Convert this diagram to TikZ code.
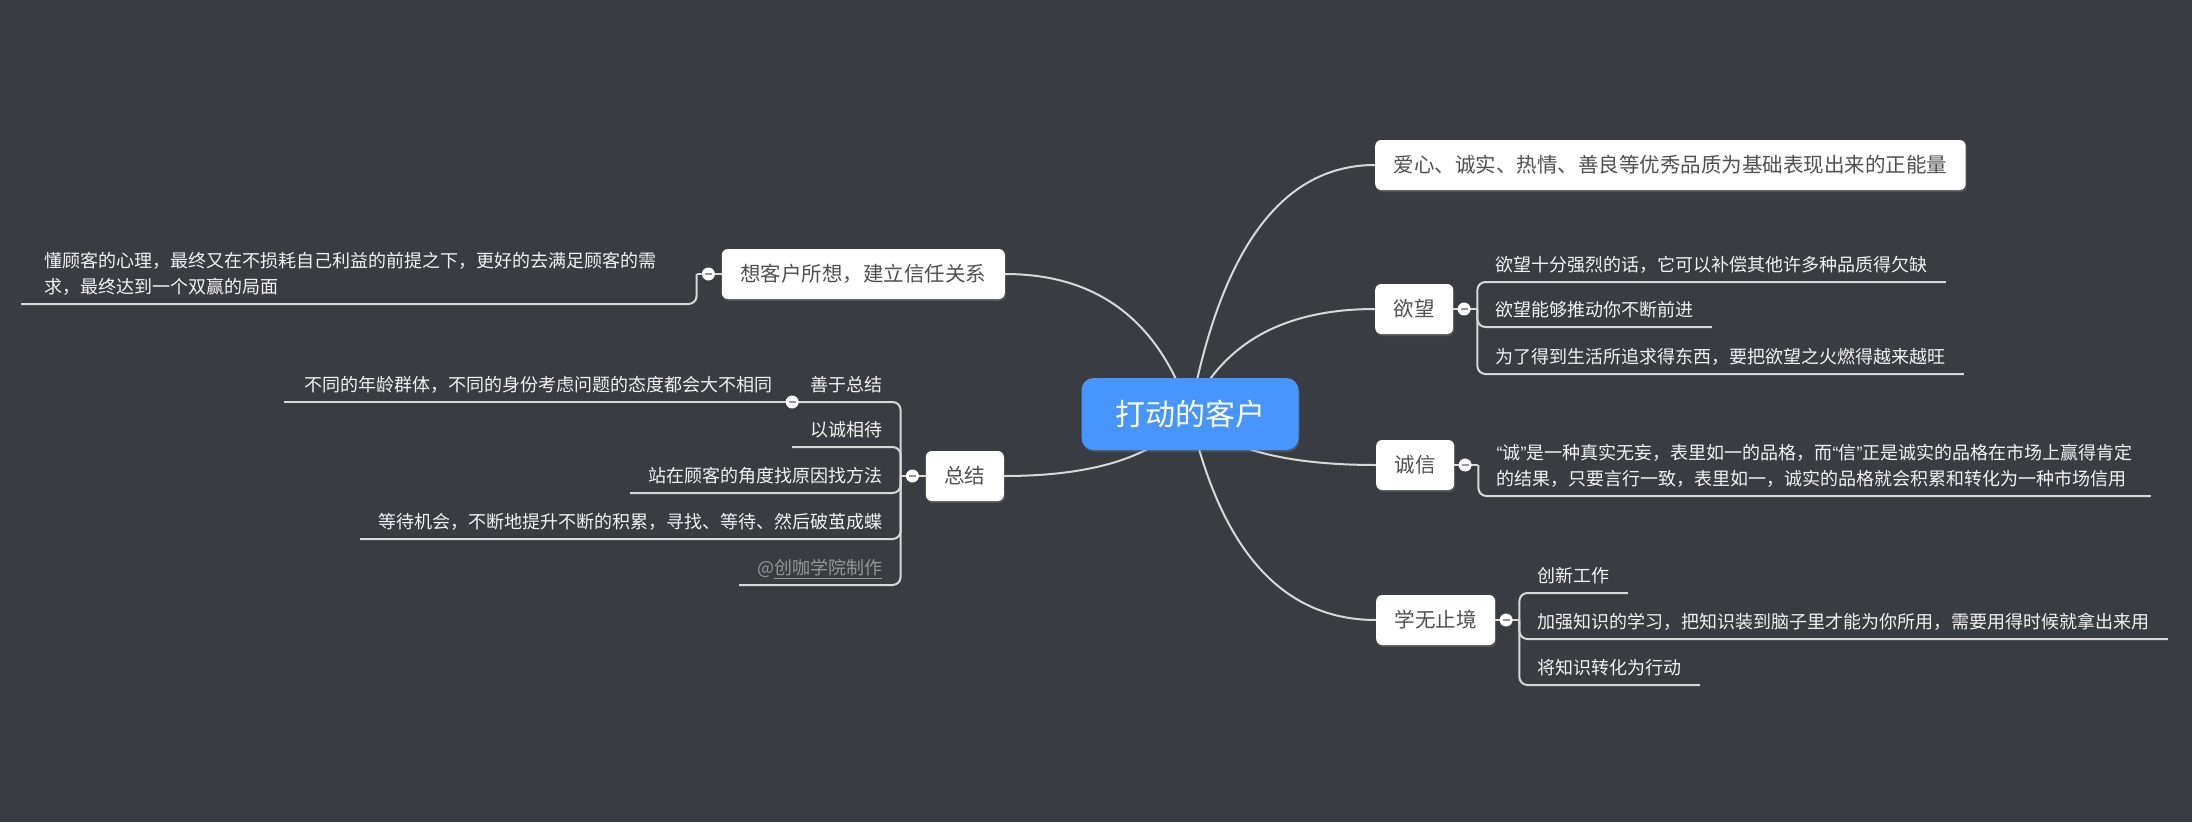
\documentclass[tikz,border=0pt]{standalone}
\usepackage{fontspec}
\setmainfont{Noto Sans CJK SC}
\newfontfamily\quotefont{Liberation Sans}
\newcommand{\quoted}[1]{{\quotefont“}#1{\quotefont”}}
\definecolor{boardgray}{RGB}{57, 60, 65}
\definecolor{rootblue}{RGB}{71, 149, 255}
\definecolor{linkgray}{RGB}{216, 216, 216}
\definecolor{topictext}{RGB}{80, 80, 80}
\definecolor{leaftext}{RGB}{242, 242, 242}
\definecolor{signgray}{RGB}{150, 150, 150}
\usepackage{tikz}
\usetikzlibrary{positioning, calc, shadows}

\tikzset{
  root/.style={fill=rootblue, text=white, rounded corners=12pt,
    minimum width=217pt, minimum height=72pt, font=\fontsize{30}{36}\selectfont,
    drop shadow={opacity=0.35, shadow xshift=1pt, shadow yshift=-2pt}},
  topic/.style={fill=white, text=topictext, rounded corners=6pt,
    minimum height=50pt, inner xsep=18.5pt, font=\fontsize{20.5}{26}\selectfont,
    drop shadow={opacity=0.35, shadow xshift=1pt, shadow yshift=-2pt}},
  leaf/.style={text=leaftext, inner xsep=18pt, inner ysep=6pt, text depth=4pt,
    align=left, font=\fontsize{18}{26}\selectfont},
  fold/.style={circle, fill=white, minimum size=13pt, inner sep=0pt,
    path picture={\draw[signgray, line width=1.6pt]
      ([xshift=3pt]path picture bounding box.west) -- ([xshift=-3pt]path picture bounding box.east);}},
  link/.style={draw=linkgray, line width=2pt},
}

\begin{document}
\begin{tikzpicture}[x=1pt, y=-1pt]
  \fill[boardgray] (0,0) rectangle (2192,822);
  \useasboundingbox (0,0) rectangle (2192,822);

  % main topics
  \coordinate (rootc) at (1190,414);
  \node[topic, anchor=west] (love) at (1375,165) {爱心、诚实、热情、善良等优秀品质为基础表现出来的正能量};
  \node[topic, anchor=west] (want) at (1375,309) {欲望};
  \node[topic, anchor=west] (trust) at (1376,465) {诚信};
  \node[topic, anchor=west] (learn) at (1376,620) {学无止境};
  \node[topic, anchor=east] (think) at (1005,274) {想客户所想，建立信任关系};
  \node[topic, anchor=east] (sum) at (1004,476) {总结};

  \coordinate (wantb) at ([xshift=24pt]want.east);
  \coordinate (trustb) at ([xshift=24pt]trust.east);
  \coordinate (learnb) at ([xshift=24pt]learn.east);
  \coordinate (thinkb) at ([xshift=-25pt]think.west);
  \coordinate (sumb) at ([xshift=-25pt]sum.west);

  % right side
  \node[leaf, anchor=south west] (want1) at (wantb |- 0,282) {欲望十分强烈的话，它可以补偿其他许多种品质得欠缺};
  \node[leaf, anchor=south west] (want2) at (wantb |- 0,327) {欲望能够推动你不断前进};
  \node[leaf, anchor=south west] (want3) at (wantb |- 0,374) {为了得到生活所追求得东西，要把欲望之火燃得越来越旺};

  \node[leaf, anchor=south west] (trust1) at (trustb |- 0,496) {\quoted{诚}是一种真实无妄，表里如一的品格，而\quoted{信}正是诚实的品格在市场上赢得肯定\\的结果，只要言行一致，表里如一，诚实的品格就会积累和转化为一种市场信用};

  \node[leaf, anchor=south west] (learn1) at (learnb |- 0,593) {创新工作};
  \node[leaf, anchor=south west] (learn2) at (learnb |- 0,639) {加强知识的学习，把知识装到脑子里才能为你所用，需要用得时候就拿出来用};
  \node[leaf, anchor=south west] (learn3) at (learnb |- 0,685) {将知识转化为行动};

  % left side
  \node[leaf, anchor=south west, inner xsep=23pt] (think1) at (21,304) {懂顾客的心理，最终又在不损耗自己利益的前提之下，更好的去满足顾客的需\\求，最终达到一个双赢的局面};

  \node[leaf, anchor=south east] (sum1) at (sumb |- 0,402) {善于总结};
  \node[leaf, anchor=south east] (sum2) at (sumb |- 0,447) {以诚相待};
  \node[leaf, anchor=south east] (sum3) at (sumb |- 0,493) {站在顾客的角度找原因找方法};
  \node[leaf, anchor=south east] (sum4) at (sumb |- 0,539) {等待机会，不断地提升不断的积累，寻找、等待、然后破茧成蝶};
  \node[leaf, anchor=south east, text=signgray] (sum5) at (sumb |- 0,585) {@\underline{创咖学院制作}};
  \node[leaf, anchor=south east, inner xsep=20pt] (sum1a) at (sum1.south west) {不同的年龄群体，不同的身份考虑问题的态度都会大不相同};

  % connectors
  \foreach \t/\a in {love/west, want/west, trust/west, learn/west, think/east, sum/east} {
    \coordinate (ctl) at ($(rootc |- \t.\a)!0.25!(\t.\a)$);
    \draw[link] (rootc) .. controls ($(rootc)!2/3!(ctl)$) and ($(\t.\a)!2/3!(ctl)$) .. (\t.\a);
  }

  \draw[link] (want.east) -- (wantb);
  \foreach \k in {1,2,3}
    \draw[link, rounded corners=8pt] (wantb) |- (want\k.south east);
  \draw[link] (trust.east) -- (trustb);
  \draw[link, rounded corners=8pt] (trustb) |- (trust1.south east);
  \draw[link] (learn.east) -- (learnb);
  \foreach \k in {1,2,3}
    \draw[link, rounded corners=8pt] (learnb) |- (learn\k.south east);

  \draw[link] (think.west) -- (thinkb);
  \draw[link, rounded corners=8pt] (thinkb) |- (think1.south west);
  \draw[link] (sum.west) -- (sumb);
  \foreach \k in {1,...,5}
    \draw[link, rounded corners=8pt] (sumb) |- (sum\k.south west);
  \draw[link] (sum1a.south east) -- (sum1a.south west);

  % fold marks
  \node[fold, right=4pt of want] (wantf) {};
  \node[fold, right=4pt of trust] (trustf) {};
  \node[fold, right=4pt of learn] (learnf) {};
  \node[fold, left=6.5pt of think] (thinkf) {};
  \node[fold, left=6.5pt of sum] (sumf) {};
  \node[fold] (sum1f) at (sum1.south west) {};

  \node[root] (root) at (rootc) {打动的客户};
\end{tikzpicture}
\end{document}
